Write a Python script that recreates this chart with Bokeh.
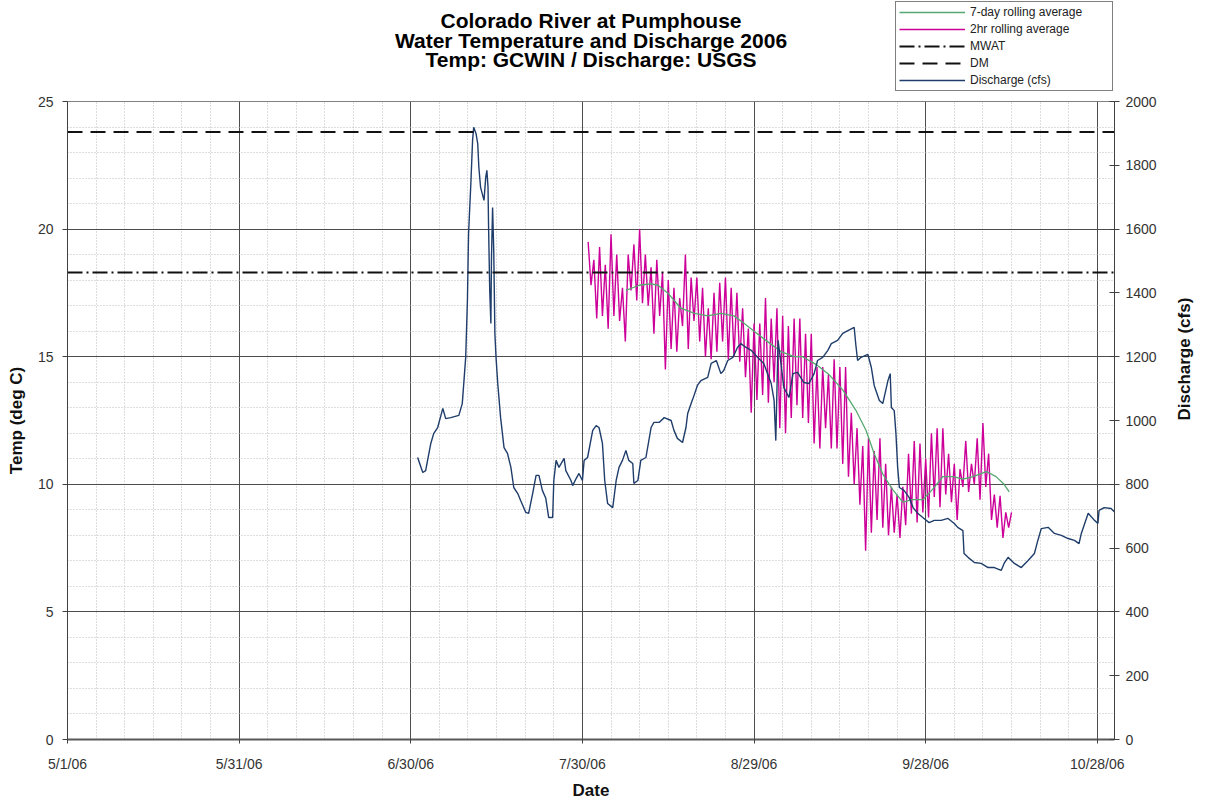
import math
import numpy as np
import pandas as pd
from bokeh.plotting import figure
from bokeh.layouts import column
from bokeh.models import Range1d, LinearAxis, FixedTicker, Legend, LegendItem, Label
from bokeh.embed import file_html
from bokeh.resources import INLINE

# ---------------- data ----------------
BASE = "2006-05-01"
x_start = "2006-05-01"
x_end = "2006-10-31"

tick_dates = ["2006-05-01", "2006-05-31", "2006-06-30", "2006-07-30",
              "2006-08-29", "2006-09-28", "2006-10-28"]
tick_labels = ["5/1/06", "5/31/06", "6/30/06", "7/30/06", "8/29/06", "9/28/06", "10/28/06"]
minor_step_days = 5

temp_ticks = [0, 5, 10, 15, 20, 25]
q_ticks = [0, 200, 400, 600, 800, 1000, 1200, 1400, 1600, 1800, 2000]

mwat_value = 18.3
dm_value = 23.8

title_lines = ["Colorado River at Pumphouse", "Water Temperature and Discharge 2006",
               "Temp: GCWIN / Discharge: USGS"]
legend_labels = ["7-day rolling average", "2hr rolling average", "MWAT", "DM", "Discharge (cfs)"]

# discharge (cfs), days after 5/1/06
q_day = [61.2, 62.1, 62.6, 63.5, 64.0, 64.7, 65.6, 66.1, 67.0, 68.4, 69.0, 69.6, 69.9, 70.1, 70.5,
         70.8, 71.0, 71.4, 71.7, 71.9, 72.2, 72.8, 73.1, 73.3, 73.5, 73.6, 73.8, 74.0, 74.1, 74.3,
         74.5, 74.7, 74.9, 75.2, 75.7, 76.3, 76.9, 77.5, 78.0, 78.7, 79.2, 80.1, 80.6, 81.3, 81.9,
         82.4, 83.0, 83.6, 84.1, 84.8, 85.0, 85.4, 85.9, 86.8, 87.1, 88.0, 88.3, 88.9, 89.4, 90.0,
         90.3, 90.9, 91.8, 92.4, 92.9, 93.5, 93.9, 94.4, 95.3, 95.9, 96.4, 97.0, 97.6, 98.1, 98.8,
         99.0, 99.7, 100.2, 101.1, 102.0, 102.5, 103.4, 104.3, 105.5, 106.0, 106.6, 107.5, 108.1,
         108.4, 109.0, 109.5, 110.1, 110.7, 111.9, 112.5, 113.4, 114.2, 114.7, 115.4, 116.3, 117.1,
         117.7, 118.6, 119.5, 120.6, 121.7, 123.0, 123.5, 123.8, 124.2, 124.7, 125.2, 126.1, 126.8,
         127.6, 128.7, 129.6, 130.5, 131.1, 132.0, 132.9, 133.5, 134.6, 135.5, 136.4, 137.5, 137.8,
         138.1, 138.7, 139.9, 140.5, 141.0, 141.9, 142.5, 143.4, 143.8, 144.0, 144.5, 144.8, 145.1,
         145.4, 146.2, 147.1, 147.8, 148.6, 149.7, 150.6, 151.5, 152.7, 153.9, 155.0, 155.6, 156.5,
         156.7, 157.4, 158.5, 159.7, 160.9, 162.0, 163.2, 163.7, 164.4, 165.5, 166.7, 167.9, 169.0,
         169.6, 170.2, 171.4, 172.5, 173.7, 174.9, 176.0, 176.8, 177.2, 178.4, 179.5, 180.1, 180.3,
         181.2, 182.4, 183.1]
q_cfs = [884, 837, 843, 928, 959, 978, 1038, 1006, 1009, 1016, 1053, 1198, 1376, 1586, 1743,
         1878, 1919, 1900, 1868, 1793, 1731, 1690, 1762, 1784, 1731, 1605, 1408, 1304, 1502, 1668,
         1533, 1273, 1198, 1116, 1009, 915, 897, 853, 790, 771, 749, 712, 709, 771, 828,
         828, 781, 756, 696, 696, 812, 875, 853, 881, 843, 812, 796, 818, 834, 812,
         875, 884, 969, 984, 978, 928, 812, 740, 727, 812, 853, 875, 906, 875, 865,
         803, 812, 875, 884, 978, 994, 994, 1009, 1000, 969, 944, 931, 978,
         1022, 1053, 1078, 1110, 1125, 1135, 1179, 1188, 1147, 1157, 1188, 1198, 1229,
         1241, 1229, 1220, 1198, 1179, 1116, 1063, 937, 1251, 1179, 1104, 1072, 1147,
         1151, 1119, 1116, 1147, 1188, 1198, 1220, 1241, 1251, 1273, 1282, 1292, 1235,
         1188, 1198, 1207, 1166, 1110, 1063, 1053, 1125, 1147, 1041, 1031, 959, 853,
         790, 781, 759, 727, 709, 693, 680, 687, 687, 693, 677, 665, 655,
         583, 571, 555, 552, 539, 539, 530, 552, 571, 552, 539, 561, 583,
         624, 661, 665, 646, 640, 630, 624, 614, 646, 709, 687, 677, 718,
         727, 724, 712]

# 2hr rolling average temperature: daily highs (from 7/31) and lows (half a day later)
temp_start = "2006-07-31"
temp_max = [19.5, 18.8, 19.3, 18.6, 19.8, 19.0, 17.7, 19.0, 19.4, 20.0,
            19.0, 18.5, 18.8, 18.3, 18.0, 17.7, 17.3, 19.0, 18.1, 18.1,
            17.7, 16.9, 17.5, 17.9, 18.1, 17.7, 17.5, 16.9, 16.1, 16.3,
            16.3, 17.3, 16.5, 16.9, 16.6, 16.2, 16.5, 16.5, 15.9, 15.9,
            14.6, 14.6, 14.3, 14.9, 14.6, 14.6, 12.8, 12.2, 11.5, 11.8,
            11.3, 11.8, 10.8, 9.9, 9.6, 9.9, 11.2, 11.7, 11.6, 11.0,
            12.0, 12.2, 12.2, 11.2, 10.8, 10.6, 11.7, 10.8, 11.8, 12.4,
            11.2, 9.6, 9.55, 8.9, 8.9]
temp_min = [17.8, 16.5, 16.6, 16.1, 16.6, 16.4, 15.6, 17.6, 17.2, 17.1,
            17.0, 15.9, 16.6, 14.5, 15.3, 15.2, 16.2, 15.3, 16.4, 15.6,
            15.0, 14.9, 15.2, 15.6, 14.9, 15.0, 14.8, 14.2, 12.8, 13.3,
            13.5, 13.2, 14.0, 12.2, 12.0, 12.6, 13.1, 12.6, 12.4, 11.6,
            11.4, 12.2, 11.4, 11.4, 10.8, 10.3, 10.0, 9.2, 7.4, 8.1,
            8.6, 8.3, 8.0, 8.1, 7.9, 8.4, 8.85, 8.5, 8.9, 8.7,
            9.5, 9.1, 9.6, 9.3, 8.6, 9.9, 9.7, 10.0, 9.4, 9.9,
            8.6, 8.3, 7.9, 8.3]

# 7-day rolling average temperature, days after 5/1/06
s7_day = [97.6, 99.9, 102.0, 103.2, 104.9, 107.2, 109.6, 111.9, 114.2, 116.5, 118.3, 120.0,
          122.3, 124.7, 127.0, 128.5, 130.8, 133.1, 135.5, 137.8, 139.6, 141.0, 142.5, 144.2,
          146.0, 147.7, 149.5, 151.2, 153.0, 154.8, 156.5, 158.3, 160.6, 162.3, 163.7, 164.6]
s7_val = [17.6, 17.8, 17.85, 17.8, 17.5, 16.9, 16.7, 16.6, 16.7, 16.6, 16.3, 16.0,
          15.6, 15.2, 15.0, 15.0, 14.7, 14.3, 13.7, 12.9, 12.1, 11.2, 10.4, 9.8,
          9.3, 9.4, 9.4, 9.8, 10.3, 10.3, 10.2, 10.3, 10.5, 10.3, 10.0, 9.7]

# ---------------- helpers ----------------
base = pd.Timestamp(BASE)


def after_base(days, origin=base):
    return pd.Timestamp(origin) + pd.to_timedelta(np.asarray(days, dtype=float), unit="D")


def ms(t):
    return float(pd.Timestamp(t).value // 10**6)


q_dt = after_base(q_day)
s7_dt = after_base(s7_day)

t_days, t_vals = [], []
for k, (hi, lo) in enumerate(zip(temp_max, temp_min)):
    t_days += [k, k + 0.5]
    t_vals += [hi, lo]
t_days.append(len(temp_min))
t_vals.append(temp_max[len(temp_min)])
t_dt = after_base(t_days, temp_start)

x0, x1 = pd.Timestamp(x_start), pd.Timestamp(x_end)
tick_ms = [ms(t) for t in tick_dates]
n_minor = int((x1 - x0).days // minor_step_days) + 1
minor_ms = [ms(x0 + pd.Timedelta(days=minor_step_days * i)) for i in range(n_minor)]

FONT = "Liberation Sans"
NAVY = "#1F3D6B"
MAGENTA = "#CC0099"
GREEN = "#55A870"
BLACK = "#111111"

styles = [dict(line_color=GREEN, line_width=1.3),
          dict(line_color=MAGENTA, line_width=1.4),
          dict(line_color=BLACK, line_width=2, line_dash="15 4 2 4"),
          dict(line_color=BLACK, line_width=2, line_dash="15 8"),
          dict(line_color=NAVY, line_width=1.4)]

FIG_W = 1207
HEAD_H = 92
MAIN_H = 710

# ---------------- header: title + legend (frame aligned with the chart frame) ----------------
head = figure(width=FIG_W, height=HEAD_H, x_range=Range1d(0, 1), y_range=Range1d(0, 1),
              x_axis_location=None, y_axis_location=None, output_backend="svg",
              toolbar_location=None, min_border=0, outline_line_color=None,
              background_fill_color="white", border_fill_color="white")
head.xgrid.visible = False
head.ygrid.visible = False
# legend keys only: samples lie outside the header's view
head_renderers = [head.line([2, 3], [2, 2], **st) for st in styles]

for i, line in enumerate(title_lines):
    head.add_layout(Label(x=523.5, y=HEAD_H - 20 - 19.5 * i, x_units="screen", y_units="screen",
                          text=line, text_align="center", text_baseline="middle",
                          text_font=FONT, text_font_size="21px", text_font_style="bold",
                          text_color="#000000"))

legend = Legend(items=[LegendItem(label=lab, renderers=[r])
                       for lab, r in zip(legend_labels, head_renderers)],
                location=(828, 1), orientation="vertical",
                border_line_color="black", border_line_width=1,
                background_fill_color="white", background_fill_alpha=1.0,
                label_text_font=FONT, label_text_font_size="12px", label_text_color="#222222",
                glyph_width=66, glyph_height=14, label_height=14, label_width=139,
                spacing=3, padding=3, margin=0, label_standoff=5)
head.add_layout(legend)

# ---------------- main chart ----------------
p = figure(width=FIG_W, height=MAIN_H, x_axis_type="datetime",
           x_range=Range1d(x0, x1), y_range=Range1d(0, 25),
           output_backend="svg", toolbar_location=None,
           min_border_left=67, min_border_right=93, min_border_top=9, min_border_bottom=63,
           background_fill_color="white", border_fill_color="white",
           outline_line_color="#808080")
p.title.text = ""
p.extra_y_ranges = {"q": Range1d(0, 2000)}

for g in (p.xgrid[0], p.ygrid[0]):
    g.grid_line_color = "#4d4d4d"
    g.grid_line_width = 1
    g.minor_grid_line_color = "#bdbdbd"
    g.minor_grid_line_dash = "1 2"
    g.minor_grid_line_width = 1

p.line(t_dt, t_vals, **styles[1])
p.line(s7_dt, s7_val, **styles[0])
p.line(q_dt, q_cfs, y_range_name="q", **styles[4])
p.line([x0, x1], [mwat_value, mwat_value], **styles[2])
p.line([x0, x1], [dm_value, dm_value], **styles[3])

xa = p.xaxis[0]
xa.ticker = FixedTicker(ticks=tick_ms, minor_ticks=minor_ms)
xa.major_label_overrides = dict(zip(tick_ms, tick_labels))
xa.axis_label = "Date"
xa.axis_line_color = "#595959"
xa.axis_line_width = 2
xa.major_tick_out = 4
xa.major_tick_in = 0
xa.major_tick_line_color = "#404040"
xa.minor_tick_line_color = None
xa.major_label_standoff = 12
xa.axis_label_standoff = 6

ya = p.yaxis[0]
ya.ticker = FixedTicker(ticks=temp_ticks, minor_ticks=list(range(0, 26)))
ya.axis_label = "Temp (deg C)"
ya.axis_line_color = "#404040"
ya.major_tick_out = 5
ya.major_tick_in = 0
ya.major_tick_line_color = "#404040"
ya.minor_tick_line_color = None
ya.major_label_standoff = 9
ya.axis_label_standoff = 9

qa = LinearAxis(y_range_name="q", ticker=FixedTicker(ticks=q_ticks))
qa.axis_label = "Discharge (cfs)"
qa.axis_line_color = "#404040"
qa.major_tick_out = 5
qa.major_tick_in = 5
qa.major_tick_line_color = "#404040"
qa.minor_tick_line_color = None
qa.major_label_standoff = 6
qa.axis_label_standoff = 25
try:
    qa.axis_label_orientation = math.pi / 2
except Exception:
    pass
p.add_layout(qa, "right")

for ax in (xa, ya, qa):
    ax.major_label_text_font = FONT
    ax.major_label_text_font_size = "14px"
    ax.major_label_text_color = "#333333"
    ax.axis_label_text_font = FONT
    ax.axis_label_text_font_size = "17px"
    ax.axis_label_text_font_style = "bold"
    ax.axis_label_text_color = BLACK

layout = column(head, p, spacing=0)
open("out.html", "w").write(file_html(layout, INLINE))
